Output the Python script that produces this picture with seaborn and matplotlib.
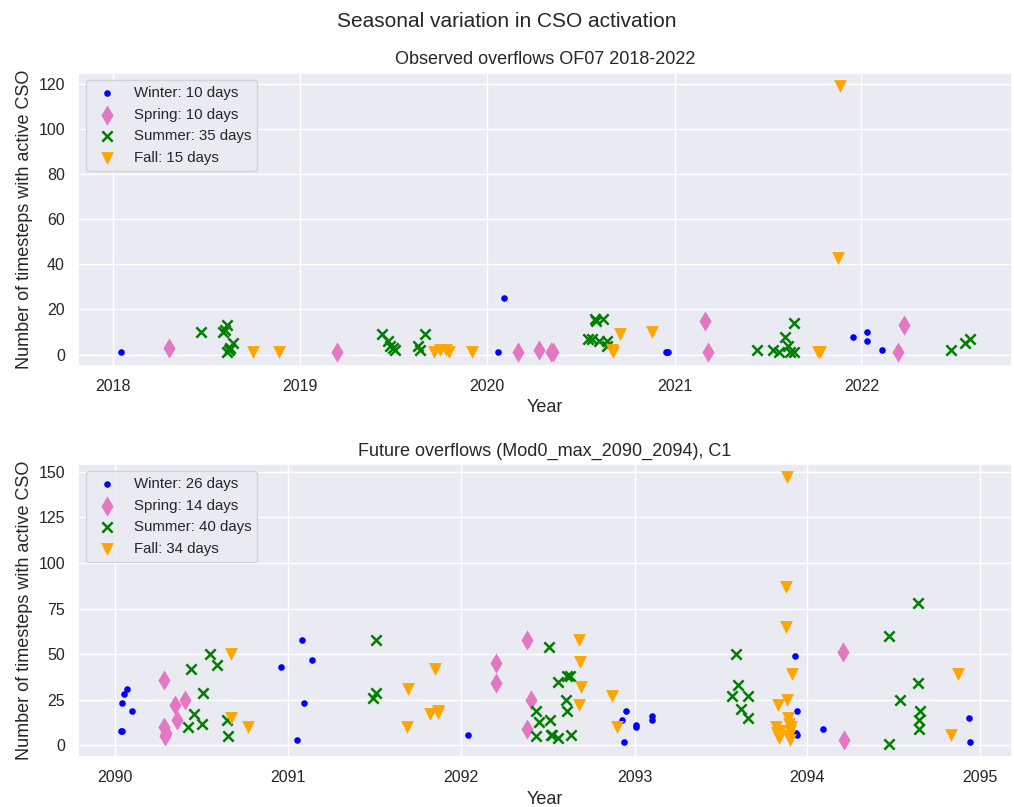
import pandas as pd
import matplotlib
matplotlib.use('Agg')
import matplotlib.pyplot as plt
import matplotlib.dates as mdates
from matplotlib.ticker import MultipleLocator
import seaborn as sns

# Observed overflows OF07 2018-2022
obs_winter_dates = ["2018-01-15", "2020-01-23", "2020-02-03", "2020-12-15", "2020-12-17",
                    "2020-12-20", "2021-12-16", "2022-01-11", "2022-01-12", "2022-02-10"]
obs_winter_vals = [1, 1, 25, 1, 1, 1, 8, 10, 6, 2]

obs_spring_dates = ["2018-04-20", "2019-03-14", "2020-03-01", "2020-04-12", "2020-05-04",
                    "2020-05-08", "2021-03-01", "2021-03-08", "2022-03-14", "2022-03-25"]
obs_spring_vals = [3, 1, 1, 2, 1, 1, 15, 1, 1, 13]

obs_summer_dates = ["2018-06-21", "2018-08-04", "2018-08-07", "2018-08-11", "2018-08-22",
                    "2018-08-10", "2018-08-14", "2018-08-17",
                    "2019-06-10", "2019-06-21", "2019-06-25", "2019-07-01", "2019-07-05",
                    "2019-08-18", "2019-08-22", "2019-09-02",
                    "2020-07-16", "2020-07-24", "2020-07-29", "2020-07-31", "2020-08-14",
                    "2020-08-07", "2020-08-22", "2020-08-23",
                    "2021-06-10", "2021-07-13", "2021-07-24", "2021-08-04", "2021-08-11",
                    "2021-08-14", "2021-08-22", "2021-08-23",
                    "2022-06-25", "2022-07-22", "2022-07-31"]
obs_summer_vals = [10, 10, 11, 13, 5, 1, 2, 3,
                   9, 6, 4, 3, 2, 4, 2, 9,
                   7, 7, 16, 15, 16, 6, 6, 4,
                   2, 2, 1, 8, 4, 1, 1, 14,
                   2, 5, 7]

obs_fall_dates = ["2018-10-01", "2018-11-21", "2019-09-20", "2019-10-01", "2019-10-12",
                  "2019-10-19", "2019-12-02", "2020-09-01", "2020-09-03", "2020-09-17",
                  "2020-11-18", "2021-10-08", "2021-10-12", "2021-11-16", "2021-11-21"]
obs_fall_vals = [1, 1, 1, 2, 2, 1, 1, 2, 1, 9, 10, 1, 1, 43, 119]

# Future overflows (Mod0_max_2090_2094), C1
fut_winter_dates = ["2090-01-12", "2090-01-15", "2090-01-16", "2090-01-19", "2090-01-26",
                    "2090-02-06", "2090-12-16", "2091-01-19", "2091-01-30", "2091-02-03",
                    "2091-02-21", "2092-01-15", "2092-12-06", "2092-12-09", "2092-12-13",
                    "2093-01-04", "2093-01-05", "2093-02-06", "2093-02-07", "2093-12-06",
                    "2093-12-09", "2093-12-08", "2093-12-10", "2094-02-03", "2094-12-08",
                    "2094-12-09"]
fut_winter_vals = [8, 8, 23, 28, 31, 19, 43, 3, 58, 23, 47, 6, 14, 2, 19,
                   11, 10, 16, 14, 49, 19, 7, 6, 9, 15, 2]

fut_spring_dates = ["2090-04-13", "2090-04-14", "2090-04-16", "2090-04-17", "2090-05-08",
                    "2090-05-11", "2090-05-29", "2092-03-14", "2092-03-15", "2092-05-19",
                    "2092-05-20", "2092-05-27", "2094-03-18", "2094-03-19"]
fut_spring_vals = [36, 10, 5, 7, 22, 14, 25, 45, 34, 58, 9, 25, 51, 3]

fut_summer_dates = ["2090-06-03", "2090-06-10", "2090-06-17", "2090-07-02", "2090-07-05",
                    "2090-07-20", "2090-08-04", "2090-08-25", "2090-08-26",
                    "2091-06-28", "2091-07-05", "2091-07-06",
                    "2092-06-07", "2092-06-08", "2092-06-14", "2092-07-04", "2092-07-06",
                    "2092-07-09", "2092-07-11", "2092-07-23", "2092-07-24", "2092-08-11",
                    "2092-08-10", "2092-08-12", "2092-08-18", "2092-08-19",
                    "2093-07-25", "2093-08-03", "2093-08-07", "2093-08-14", "2093-08-28",
                    "2093-08-29",
                    "2094-06-21", "2094-06-22", "2094-07-16", "2094-08-22", "2094-08-23",
                    "2094-08-26", "2094-08-24", "2094-08-25"]
fut_summer_vals = [10, 42, 17, 12, 29, 50, 44, 14, 5,
                   26, 29, 58,
                   19, 5, 13, 54, 14, 6, 6, 35, 4, 38, 25, 19, 38, 6,
                   27, 50, 33, 20, 27, 15,
                   60, 1, 25, 78, 34, 19, 14, 9]

fut_fall_dates = ["2090-09-02", "2090-09-03", "2090-10-09",
                  "2091-09-09", "2091-09-11", "2091-10-27", "2091-11-06", "2091-11-13",
                  "2091-11-14",
                  "2092-09-05", "2092-09-08", "2092-09-09", "2092-09-06", "2092-11-14",
                  "2092-11-25",
                  "2093-10-27", "2093-10-28", "2093-10-31", "2093-11-01", "2093-11-03",
                  "2093-10-30", "2093-11-16", "2093-11-17", "2093-11-18", "2093-11-19",
                  "2093-11-21", "2093-11-22", "2093-11-23", "2093-11-25", "2093-11-28",
                  "2093-11-29", "2093-11-26",
                  "2094-10-30", "2094-11-14"]
fut_fall_vals = [50, 15, 10,
                 10, 31, 17, 42, 19, 18,
                 58, 46, 32, 22, 27, 10,
                 10, 7, 22, 4, 8, 6, 65, 87, 147, 25, 15, 12, 5, 8, 10, 39, 3,
                 6, 39]

sns.set_theme(style="darkgrid")
plt.rcParams['font.family'] = ['Liberation Sans', 'DejaVu Sans']

# season: (marker, colour, size, linewidth)
styles = {
    "Winter": (".", "blue", 90, 0),
    "Spring": ("d", "#e377c2", 105, 0),
    "Summer": ("x", "green", 55, 1.8),
    "Fall": ("v", "orange", 85, 0),
}


def plot_panel(ax, series, title):
    for season, (dates, vals) in series.items():
        marker, color, size, lw = styles[season]
        df = pd.DataFrame({"date": pd.to_datetime(dates), "count": vals})
        sns.scatterplot(data=df, x="date", y="count", ax=ax, marker=marker,
                        color=color, s=size, linewidth=lw,
                        label=f"{season}: {len(vals)} days")
    ax.xaxis.set_major_locator(mdates.YearLocator())
    ax.xaxis.set_major_formatter(mdates.DateFormatter("%Y"))
    ax.set_title(title, fontsize=13)
    ax.set_xlabel("Year", fontsize=13)
    ax.set_ylabel("Number of timesteps with active CSO", fontsize=13)
    ax.tick_params(labelsize=11.5)
    ax.legend(loc="upper left", fontsize=10.8)


fig, axes = plt.subplots(2, 1, figsize=(10.14, 8.07))
plot_panel(axes[0], {
    "Winter": (obs_winter_dates, obs_winter_vals),
    "Spring": (obs_spring_dates, obs_spring_vals),
    "Summer": (obs_summer_dates, obs_summer_vals),
    "Fall": (obs_fall_dates, obs_fall_vals),
}, "Observed overflows OF07 2018-2022")
plot_panel(axes[1], {
    "Winter": (fut_winter_dates, fut_winter_vals),
    "Spring": (fut_spring_dates, fut_spring_vals),
    "Summer": (fut_summer_dates, fut_summer_vals),
    "Fall": (fut_fall_dates, fut_fall_vals),
}, "Future overflows (Mod0_max_2090_2094), C1")
axes[1].yaxis.set_major_locator(MultipleLocator(25))

fig.suptitle("Seasonal variation in CSO activation", fontsize=15, y=0.985)
plt.subplots_adjust(left=0.077, right=0.998, top=0.91, bottom=0.062, hspace=0.335)
plt.savefig("out.png", dpi=100)
